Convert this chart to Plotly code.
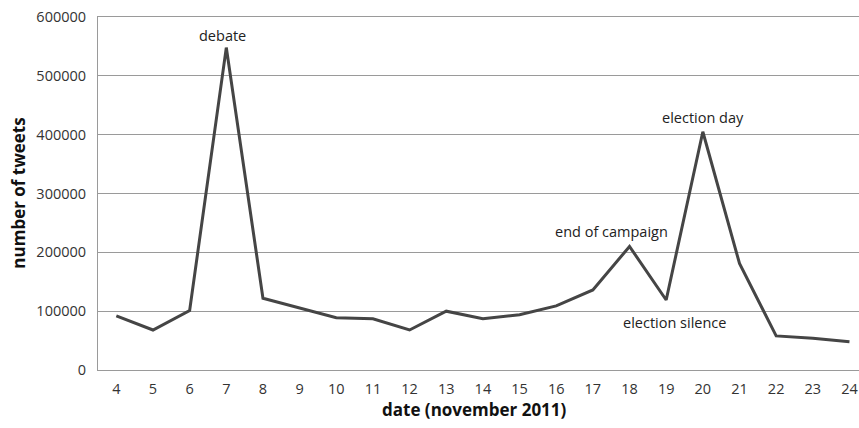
import plotly.graph_objects as go

dates = list(range(4, 25))
tweets = [92000, 68000, 101000, 548000, 122000, 106000, 89000, 87000, 68000, 100000,
          87000, 94000, 109000, 136000, 210000, 119000, 405000, 181000, 58000, 54000, 48000]
y_ticks = [0, 100000, 200000, 300000, 400000, 500000, 600000]

events = [
    ("debate", 7, -4, 12),
    ("end of campaign", 18, -18, 15),
    ("election day", 20, 0, 14),
    ("election silence", 19, 8, -23),
]

FONT = "Open Sans, sans-serif"

fig = go.Figure()
fig.add_trace(go.Scatter(x=dates, y=tweets, mode="lines",
                         line=dict(color="#454545", width=3), showlegend=False))

for text, d, xs, ys in events:
    fig.add_annotation(x=d, y=tweets[dates.index(d)], text=text, showarrow=False,
                       yanchor="middle", xanchor="center", xshift=xs, yshift=ys,
                       font=dict(family=FONT, size=14.5, color="#222222"))

fig.add_annotation(xref="paper", yref="paper", x=0.495, y=-0.113, text="<b>date (november 2011)</b>",
                   showarrow=False, xanchor="center", yanchor="middle",
                   font=dict(family=FONT, size=17, color="#111111"))
fig.add_annotation(xref="paper", yref="paper", x=-0.104, y=0.502, text="<b>number of tweets</b>",
                   showarrow=False, xanchor="center", yanchor="middle", textangle=-90,
                   font=dict(family=FONT, size=17, color="#111111"))

fig.update_layout(
    width=859, height=428,
    margin=dict(l=98, r=0, t=17, b=58, autoexpand=False),
    paper_bgcolor="white", plot_bgcolor="white",
    font=dict(family=FONT, color="#333333"),
)
fig.update_xaxes(range=[3.5, 24.26], tickmode="array", tickvals=dates,
                 ticktext=[str(d) for d in dates], showgrid=False, automargin=False,
                 showline=True, mirror=True, linecolor="#9a9a9a", linewidth=1, zeroline=False,
                 ticks="", ticklen=0, ticklabelstandoff=6, ticklabeloverflow="allow",
                 tickfont=dict(family=FONT, size=14.5, color="#333333"))
fig.update_yaxes(range=[0, 600000], tickvals=y_ticks, ticktext=[str(v) for v in y_ticks],
                 showgrid=True, gridcolor="#9a9a9a", gridwidth=1, automargin=False,
                 showline=True, linecolor="#9a9a9a", linewidth=1,
                 zeroline=False, ticks="", ticklen=0, ticklabelstandoff=8,
                 ticklabeloverflow="allow",
                 tickfont=dict(family=FONT, size=14.5, color="#333333"))

fig.write_html("out.html", config={"displayModeBar": False},
               post_script="document.body.style.margin='0';document.body.style.overflow='hidden';")
